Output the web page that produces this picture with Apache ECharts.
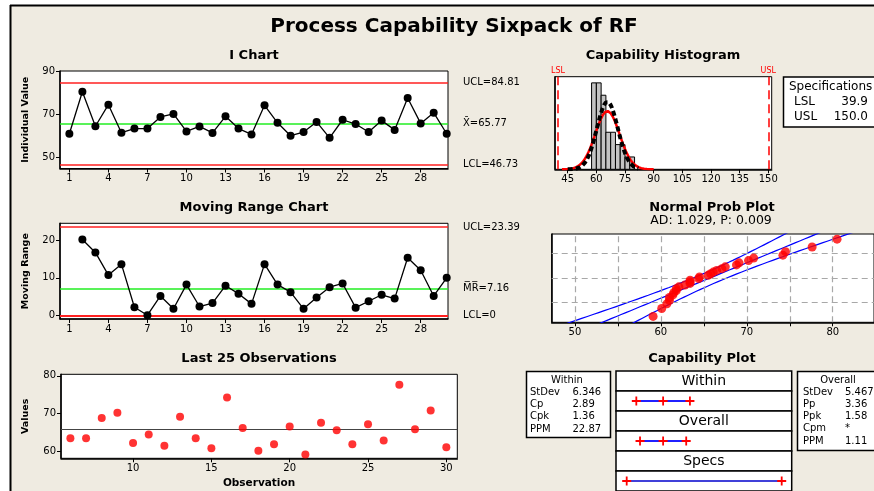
<!DOCTYPE html>
<html>
<head>
<meta charset="utf-8">
<script src="https://cdn.jsdelivr.net/npm/echarts@6/dist/echarts.min.js"></script>
<style>
html, body { margin: 0; padding: 0; background: #fff; }
#main { width: 874px; height: 491px; }
</style>
</head>
<body>
<div id="main"></div>
<script>
const obs = [1,2,3,4,5,6,7,8,9,10,11,12,13,14,15,16,17,18,19,20,21,22,23,24,25,26,27,28,29,30];
const rfValues = [61.0,80.5,64.5,74.5,61.5,63.4,63.4,68.8,70.2,62.1,64.4,61.4,69.1,63.4,60.7,74.2,66.1,60.1,61.8,66.5,59.1,67.5,65.5,61.8,67.1,62.8,77.6,65.8,70.8,61.0];
const mrObs = [2,3,4,5,6,7,8,9,10,11,12,13,14,15,16,17,18,19,20,21,22,23,24,25,26,27,28,29,30];
const mrValues = [20.1,16.7,10.7,13.6,2.2,0.1,5.2,1.8,8.2,2.4,3.3,7.9,5.8,3.1,13.6,8.2,6.2,1.8,4.8,7.5,8.5,2.1,3.8,5.5,4.5,15.3,12.0,5.2,10.0];
const last25Obs = [6,7,8,9,10,11,12,13,14,15,16,17,18,19,20,21,22,23,24,25,26,27,28,29,30];
const last25Values = [63.4,63.4,68.8,70.2,62.1,64.4,61.4,69.1,63.4,60.7,74.2,66.1,60.1,61.8,66.5,59.1,67.5,65.5,61.8,67.1,62.8,77.6,65.8,70.8,61.0];

const iUCL = 84.81, iMean = 65.77, iLCL = 46.73;
const mrUCL = 23.39, mrMean = 7.16, mrLCL = 0;
const LSL = 39.9, USL = 150.0;
const sdWithin = 6.346, sdOverall = 5.467;
const adText = 'AD: 1.029, P: 0.009';

const binEdges = [57.5,60,62.5,65,67.5,70,72.5,75,77.5,80];
const binCounts = [7,7,6,3,3,2,2,1,1];

const withinLimits = [46.73, 65.77, 84.81];
const overallLimits = [49.37, 65.77, 82.17];
const specLimits = [39.9, 150.0];

const withinStatLabels = ['StDev','Cp','Cpk','PPM'];
const withinStatValues = ['6.346','2.89','1.36','22.87'];
const overallStatLabels = ['StDev','Pp','Ppk','Cpm','PPM'];
const overallStatValues = ['5.467','3.36','1.58','*','1.11'];

// tick labels
const iTicksX = [1,4,7,10,13,16,19,22,25,28];
const iTicksY = [50,70,90];
const mrTicksY = [0,10,20];
const lastTicksX = [10,15,20,25,30];
const lastTicksY = [60,70,80];
const histTicksX = [45,60,75,90,105,120,135,150];
const probTicksX = [50,55,60,65,70,75,80];
const probLabelsX = [50,60,70,80];
const probGridPct = [10,50,90];
const capBands = ['Within','','Overall','','Specs',''];

const FONT = '"DejaVu Sans", Verdana, sans-serif';
const RED = '#FF2020';
const GREEN = '#22EE22';

// inverse normal cdf (Acklam)
function probit(p) {
  const a = [-3.969683028665376e+01,2.209460984245205e+02,-2.759285104469687e+02,1.383577518672690e+02,-3.066479806614716e+01,2.506628277459239e+00];
  const b = [-5.447609879822406e+01,1.615858368580409e+02,-1.556989798598866e+02,6.680131188771972e+01,-1.328068155288572e+01];
  const c = [-7.784894002430293e-03,-3.223964580411365e-01,-2.400758277161838e+00,-2.549671348283169e+00,4.374664141464968e+00,2.938163982698783e+00];
  const d = [7.784695709041462e-03,3.224671290700398e-01,2.445134137142996e+00,3.754408661907416e+00];
  const pl = 0.02425;
  let q, r;
  if (p < pl) {
    q = Math.sqrt(-2 * Math.log(p));
    return (((((c[0]*q+c[1])*q+c[2])*q+c[3])*q+c[4])*q+c[5]) / ((((d[0]*q+d[1])*q+d[2])*q+d[3])*q+1);
  }
  if (p <= 1 - pl) {
    q = p - 0.5; r = q * q;
    return (((((a[0]*r+a[1])*r+a[2])*r+a[3])*r+a[4])*r+a[5])*q / (((((b[0]*r+b[1])*r+b[2])*r+b[3])*r+b[4])*r+1);
  }
  q = Math.sqrt(-2 * Math.log(1 - p));
  return -(((((c[0]*q+c[1])*q+c[2])*q+c[3])*q+c[4])*q+c[5]) / ((((d[0]*q+d[1])*q+d[2])*q+d[3])*q+1);
}

// fitted normal curve scaled to histogram counts
function normalCurve(mean, sd, from, to) {
  const n = rfValues.length, w = binEdges[1] - binEdges[0];
  const pts = [];
  for (let x = from; x <= to + 1e-9; x += 0.5) {
    const z = (x - mean) / sd;
    pts.push([x, n * w * Math.exp(-0.5 * z * z) / (sd * Math.sqrt(2 * Math.PI))]);
  }
  return pts;
}

// probability plot: points, fit line and 95% bands
const n = rfValues.length;
const sorted = rfValues.slice().sort((a, b) => a - b);
const probPoints = sorted.map((v, i) => [v, probit((i + 1 - 0.3) / (n + 0.4))]);
const fitLine = [], bandLo = [], bandHi = [];
for (let z = -2.8; z <= 2.8001; z += 0.1) {
  const x = iMean + sdOverall * z;
  const half = 1.96 * sdOverall * Math.sqrt(1 / n + z * z / (2 * n));
  fitLine.push([x, z]);
  bandLo.push([x - half, z]);
  bandHi.push([x + half, z]);
}

const chart = echarts.init(document.getElementById('main'), null, { renderer: 'canvas', width: 874, height: 491 });

const tickText = { color: '#000', fontSize: 10, fontFamily: FONT };

function valAxis(gridIndex, min, max, ticks, labels, extra) {
  return Object.assign({
    type: 'value', gridIndex, min, max,
    axisLine: { show: true, onZero: false, lineStyle: { color: '#000', width: 1.5 } },
    axisTick: { show: ticks != null, length: 4, customValues: ticks || undefined, lineStyle: { color: '#000' } },
    axisLabel: Object.assign({ show: labels != null, margin: 5, customValues: labels || undefined }, tickText),
    splitLine: { show: false }
  }, extra || {});
}

const axisName = (name, gap) => ({
  name, nameLocation: 'middle', nameGap: gap, nameRotate: 90,
  nameTextStyle: { color: '#000', fontSize: 9.5, fontWeight: 'bold', fontFamily: FONT }
});

const plainGrid = (left, top, width, height) => ({
  left, top, width, height, show: true, backgroundColor: '#fff', borderColor: '#000', borderWidth: 1
});

function limitLines(items) {
  return {
    symbol: ['none', 'none'], silent: true, animation: false,
    label: { position: 'end', distance: 15, color: '#000', fontSize: 10, fontFamily: FONT, formatter: p => p.name },
    data: items
  };
}

// text helper for graphic
const txt = (text, x, y, font, align) => ({
  type: 'text', z: 100, x, y,
  style: { text, font, fill: '#000', textAlign: align || 'center', textVerticalAlign: 'middle' }
});

const graphics = [
  { type: 'rect', z: 100, shape: { x: 0, y: 0, width: 874, height: 5 }, style: { fill: '#fff' } },
  { type: 'rect', z: 100, shape: { x: 0, y: 0, width: 10, height: 491 }, style: { fill: '#fff' } },
  { type: 'line', z: 100, shape: { x1: 10, y1: 5.5, x2: 874, y2: 5.5 }, style: { stroke: '#000', lineWidth: 2 } },
  { type: 'line', z: 100, shape: { x1: 10.5, y1: 5, x2: 10.5, y2: 491 }, style: { stroke: '#000', lineWidth: 2 } },
  txt('Process Capability Sixpack of RF', 454, 27, 'bold 20px ' + FONT),
  txt('I Chart', 254, 55.7, 'bold 13px ' + FONT),
  txt('Moving Range Chart', 254, 207.7, 'bold 13px ' + FONT),
  txt('Last 25 Observations', 259, 358.3, 'bold 13px ' + FONT),
  txt('Observation', 259, 483, 'bold 10.5px ' + FONT),
  txt('Capability Histogram', 663, 55.7, 'bold 13px ' + FONT),
  txt('Normal Prob Plot', 712, 207.7, 'bold 13px ' + FONT),
  txt(adText, 711, 221, '12.5px ' + FONT),
  txt('Capability Plot', 702, 358.3, 'bold 13px ' + FONT),
  // specifications box
  { type: 'rect', z: 90, shape: { x: 783.5, y: 77, width: 100, height: 50 }, style: { fill: '#fff', stroke: '#000', lineWidth: 1.5 } },
  txt('Specifications', 789, 87, '12px ' + FONT, 'left'),
  txt('LSL', 794, 102, '12px ' + FONT, 'left'),
  txt(LSL.toFixed(1), 868, 102, '12px ' + FONT, 'right'),
  txt('USL', 794, 117, '12px ' + FONT, 'left'),
  txt(USL.toFixed(1), 868, 117, '12px ' + FONT, 'right'),
  // within stats box
  { type: 'rect', z: 90, shape: { x: 526.5, y: 371.5, width: 84, height: 66 }, style: { fill: '#fff', stroke: '#000', lineWidth: 1.5 } },
  txt('Within', 567, 380, '10px ' + FONT),
  // overall stats box
  { type: 'rect', z: 90, shape: { x: 797.5, y: 371.5, width: 90, height: 79 }, style: { fill: '#fff', stroke: '#000', lineWidth: 1.5 } },
  txt('Overall', 838, 380, '10px ' + FONT)
];
withinStatLabels.forEach((l, i) => {
  graphics.push(txt(l, 530, 392.3 + i * 12.3, '10px ' + FONT, 'left'));
  graphics.push(txt(withinStatValues[i], 572.5, 392.3 + i * 12.3, '10px ' + FONT, 'left'));
});
overallStatLabels.forEach((l, i) => {
  graphics.push(txt(l, 803, 392.3 + i * 12.2, '10px ' + FONT, 'left'));
  graphics.push(txt(overallStatValues[i], 845, 392.3 + i * 12.2, '10px ' + FONT, 'left'));
});

const plusSymbol = 'path://M4,0L6,0L6,4L10,4L10,6L6,6L6,10L4,10L4,6L0,6L0,4L4,4Z';

chart.setOption({
  animation: false,
  backgroundColor: '#EFEBE1',
  textStyle: { fontFamily: FONT },
  graphic: { elements: graphics },
  grid: [
    plainGrid(60, 71, 388, 97.5),       // I chart
    plainGrid(60, 223.3, 388, 95.7),    // moving range
    plainGrid(61, 374.3, 396.3, 84),    // last 25
    plainGrid(555, 76.7, 216.7, 92.6),  // histogram
    plainGrid(551.7, 234, 326, 88.3),   // normal prob
    { left: 616, top: 371, width: 175.7, height: 120, show: false } // capability plot
  ],
  xAxis: [
    valAxis(0, 0.28, 30.1, iTicksX, iTicksX),
    valAxis(1, 0.28, 30.1, iTicksX, iTicksX),
    valAxis(2, 5.4, 30.7, lastTicksX, lastTicksX),
    valAxis(3, 38.35, 151.8, histTicksX, histTicksX),
    valAxis(4, 47.3, 84.8, probTicksX, probLabelsX),
    { type: 'value', gridIndex: 5, min: 32.3, max: 157.1, show: false }
  ],
  yAxis: [
    Object.assign(valAxis(0, 44.9, 90.1, iTicksY, iTicksY), axisName('Individual Value', 29)),
    Object.assign(valAxis(1, -0.9, 24.4, mrTicksY, mrTicksY), axisName('Moving Range', 29)),
    Object.assign(valAxis(2, 58.06, 80.4, lastTicksY, lastTicksY), axisName('Values', 30)),
    valAxis(3, 0, 7.5, null, null),
    valAxis(4, -2.3, 2.26, null, null),
    { type: 'category', gridIndex: 5, data: capBands.map((b, i) => 'band' + i), inverse: true, show: false }
  ],
  series: [
    // I chart
    {
      type: 'line', xAxisIndex: 0, yAxisIndex: 0, z: 5,
      data: obs.map((o, i) => [o, rfValues[i]]),
      symbol: 'circle', symbolSize: 8,
      itemStyle: { color: '#000' }, lineStyle: { color: '#000', width: 1.3 },
      markLine: limitLines([
        { yAxis: iUCL, name: 'UCL=' + iUCL.toFixed(2), lineStyle: { color: RED, width: 1.5, type: 'solid' } },
        { yAxis: iMean, name: 'X\u0304=' + iMean.toFixed(2), lineStyle: { color: GREEN, width: 1.5, type: 'solid' } },
        { yAxis: iLCL, name: 'LCL=' + iLCL.toFixed(2), lineStyle: { color: RED, width: 1.5, type: 'solid' } }
      ])
    },
    // moving range chart
    {
      type: 'line', xAxisIndex: 1, yAxisIndex: 1, z: 5,
      data: mrObs.map((o, i) => [o, mrValues[i]]),
      symbol: 'circle', symbolSize: 8,
      itemStyle: { color: '#000' }, lineStyle: { color: '#000', width: 1.3 },
      markLine: limitLines([
        { yAxis: mrUCL, name: 'UCL=' + mrUCL.toFixed(2), lineStyle: { color: RED, width: 1.5, type: 'solid' } },
        { yAxis: mrMean, name: 'M\u0305R\u0305=' + mrMean.toFixed(2), lineStyle: { color: GREEN, width: 1.5, type: 'solid' } },
        { yAxis: mrLCL, name: 'LCL=' + mrLCL, lineStyle: { color: RED, width: 2, type: 'solid' } }
      ])
    },
    // last 25 observations
    {
      type: 'scatter', xAxisIndex: 2, yAxisIndex: 2, z: 5,
      data: last25Obs.map((o, i) => [o, last25Values[i]]),
      symbol: 'circle', symbolSize: 8, itemStyle: { color: '#FF0000' },
      markLine: {
        symbol: ['none', 'none'], silent: true, label: { show: false },
        lineStyle: { color: '#444', width: 1.2, type: 'solid' },
        data: [{ yAxis: iMean }]
      }
    },
    // histogram bars
    {
      type: 'custom', xAxisIndex: 3, yAxisIndex: 3, z: 3,
      data: binCounts.map((c, i) => [binEdges[i], binEdges[i + 1], c]),
      encode: { x: [0, 1], y: 2 },
      renderItem: (params, api) => {
        const p0 = api.coord([api.value(0), api.value(2)]);
        const p1 = api.coord([api.value(1), 0]);
        return {
          type: 'rect',
          shape: { x: p0[0], y: p0[1], width: p1[0] - p0[0], height: p1[1] - p0[1] },
          style: { fill: '#C4C4C4', stroke: '#000', lineWidth: 1 }
        };
      },
      markLine: {
        symbol: ['none', 'none'], silent: true,
        lineStyle: { color: '#FF0000', width: 1.5, type: [9, 5] },
        label: { position: 'end', distance: 2, color: '#FF0000', fontSize: 8, fontFamily: FONT, formatter: p => p.name },
        data: [{ xAxis: LSL, name: 'LSL' }, { xAxis: USL, name: 'USL' }]
      }
    },
    {
      type: 'line', xAxisIndex: 3, yAxisIndex: 3, z: 4, showSymbol: false, symbol: 'none',
      data: normalCurve(iMean, sdWithin, 42, 90),
      lineStyle: { color: '#FF0000', width: 2.5 }
    },
    {
      type: 'line', xAxisIndex: 3, yAxisIndex: 3, z: 5, showSymbol: false, symbol: 'none',
      data: normalCurve(iMean, sdOverall, 45, 82),
      lineStyle: { color: '#000', width: 4, type: [5, 3] }
    },
    // normal probability plot grid lines
    {
      type: 'line', xAxisIndex: 4, yAxisIndex: 4, z: 2, data: [],
      markLine: {
        symbol: ['none', 'none'], silent: true, label: { show: false },
        lineStyle: { color: '#A8A8A8', width: 1.2, type: [6, 4] },
        data: probTicksX.map(v => ({ xAxis: v })).concat(probGridPct.map(p => ({ yAxis: probit(p / 100) })))
      }
    },
    {
      type: 'line', xAxisIndex: 4, yAxisIndex: 4, z: 3, symbol: 'none', data: fitLine,
      lineStyle: { color: '#0000FF', width: 1.2 }
    },
    {
      type: 'line', xAxisIndex: 4, yAxisIndex: 4, z: 3, symbol: 'none', data: bandLo,
      lineStyle: { color: '#0000FF', width: 1.2 }
    },
    {
      type: 'line', xAxisIndex: 4, yAxisIndex: 4, z: 3, symbol: 'none', data: bandHi,
      lineStyle: { color: '#0000FF', width: 1.2 }
    },
    {
      type: 'scatter', xAxisIndex: 4, yAxisIndex: 4, z: 5,
      data: probPoints, symbol: 'circle', symbolSize: 9, itemStyle: { color: '#FF0000' }
    },
    // capability plot boxes
    {
      type: 'custom', xAxisIndex: 5, yAxisIndex: 5, z: 3,
      data: capBands.map((b, i) => [i]),
      encode: { y: 0 },
      renderItem: (params, api) => {
        const idx = api.value(0);
        const cs = params.coordSys;
        const cy = api.coord([60, idx])[1];
        const h = api.size([0, 1])[1];
        const children = [{
          type: 'rect',
          shape: { x: cs.x, y: cy - h / 2, width: cs.width, height: h },
          style: { fill: '#fff', stroke: '#000', lineWidth: 1.5 }
        }];
        if (capBands[idx]) {
          children.push({
            type: 'text',
            style: { text: capBands[idx], x: cs.x + cs.width / 2, y: cy, textAlign: 'center', textVerticalAlign: 'middle', font: '14px ' + FONT, fill: '#000' }
          });
        }
        return { type: 'group', children };
      }
    },
    {
      type: 'line', xAxisIndex: 5, yAxisIndex: 5, z: 6,
      data: withinLimits.map(v => [v, 1]),
      symbol: plusSymbol, symbolSize: 9,
      itemStyle: { color: '#FF0000' }, lineStyle: { color: '#2020FF', width: 2 }
    },
    {
      type: 'line', xAxisIndex: 5, yAxisIndex: 5, z: 6,
      data: overallLimits.map(v => [v, 3]),
      symbol: plusSymbol, symbolSize: 9,
      itemStyle: { color: '#FF0000' }, lineStyle: { color: '#2020FF', width: 2 }
    },
    {
      type: 'line', xAxisIndex: 5, yAxisIndex: 5, z: 6,
      data: specLimits.map(v => [v, 5]),
      symbol: plusSymbol, symbolSize: 9,
      itemStyle: { color: '#FF0000' }, lineStyle: { color: '#0000CC', width: 1.5 }
    }
  ]
});
</script>
</body>
</html>
